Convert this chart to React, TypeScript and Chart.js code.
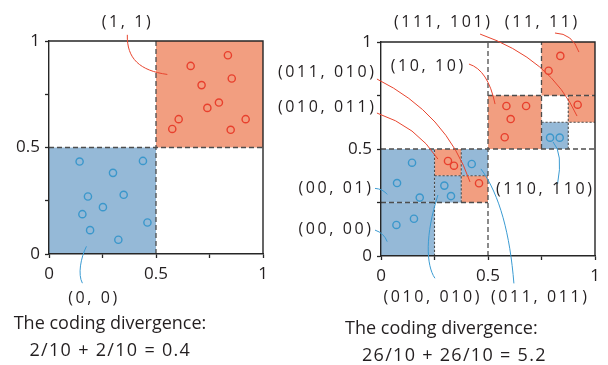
import { useEffect, useRef } from "react";
import { Chart, registerables } from "chart.js";

Chart.register(...registerables);

// ---------------------------------------------------------------------------
// Sample points (unit square), one array per coordinate and class
// ---------------------------------------------------------------------------
const leftRedX = [0.836, 0.662, 0.854, 0.713, 0.794, 0.74, 0.606, 0.919, 0.576, 0.849];
const leftRedY = [0.933, 0.883, 0.824, 0.793, 0.711, 0.686, 0.633, 0.633, 0.587, 0.583];
const leftBlueX = [0.143, 0.439, 0.299, 0.349, 0.182, 0.252, 0.156, 0.46, 0.192, 0.324];
const leftBlueY = [0.434, 0.437, 0.381, 0.278, 0.27, 0.22, 0.187, 0.148, 0.112, 0.067];

const rightRedX = [0.838, 0.783, 0.919, 0.586, 0.678, 0.606, 0.578, 0.313, 0.341, 0.458];
const rightRedY = [0.935, 0.866, 0.707, 0.701, 0.701, 0.64, 0.555, 0.444, 0.422, 0.34];
const rightBlueX = [0.145, 0.424, 0.075, 0.296, 0.181, 0.327, 0.154, 0.072, 0.79, 0.835];
const rightBlueY = [0.436, 0.43, 0.341, 0.329, 0.273, 0.28, 0.174, 0.145, 0.553, 0.553];

// Occupied cells as [x0, x1, y0, y1], with their code labels
type Cell = [number, number, number, number];
const leftRedCells: Cell[] = [[0.5, 1, 0.5, 1]];
const leftRedCodes = ["(1, 1)"];
const leftBlueCells: Cell[] = [[0, 0.5, 0, 0.5]];
const leftBlueCodes = ["(0, 0)"];

const rightRedCells: Cell[] = [
  [0.875, 1, 0.625, 0.75],
  [0.75, 1, 0.75, 1],
  [0.5, 0.75, 0.5, 0.75],
  [0.375, 0.5, 0.25, 0.375],
  [0.25, 0.375, 0.375, 0.5],
];
const rightRedCodes = ["(111, 101)", "(11, 11)", "(10, 10)", "(011, 010)", "(010, 011)"];
const rightBlueCells: Cell[] = [
  [0, 0.25, 0.25, 0.5],
  [0, 0.25, 0, 0.25],
  [0.75, 0.875, 0.5, 0.625],
  [0.25, 0.375, 0.25, 0.375],
  [0.375, 0.5, 0.375, 0.5],
];
const rightBlueCodes = ["(00, 01)", "(00, 00)", "(110, 110)", "(010, 010)", "(011, 011)"];

// Axis ticks
const tickValues = [0, 0.25, 0.5, 0.75, 1];
const tickLabels = ["0", "", "0.5", "", "1"];

// Captions
const leftCaption = ["The coding divergence:", "2/10 + 2/10 = 0.4"];
const rightCaption = ["The coding divergence:", "26/10 + 26/10 = 5.2"];

// ---------------------------------------------------------------------------
// Styling
// ---------------------------------------------------------------------------
const RED_FILL = "#f29e80";
const BLUE_FILL = "#95b9d7";
const RED_MARK = "#e8402d";
const BLUE_MARK = "#3b97cb";
const RED_LINK = "#e8452f";
const BLUE_LINK = "#3b9bd2";
const INK = "#231f20";
const AXIS = "#262626";
const SPLIT = "#4d4d4d";
const FONT_FAMILY = "'Open Sans', 'Noto Sans', sans-serif";
const LABEL_FONT = `16px ${FONT_FAMILY}`;
const CAPTION_FONT = `18px ${FONT_FAMILY}`;
const LABEL_SPACING = 2.6;
const FORMULA_SPACING = 1.3;

type Split = { x0: number; y0: number; x1: number; y1: number; fine?: boolean };
type Note = {
  text: string;
  at: [number, number];
  align: "left" | "center" | "right";
  font: string;
  spacing?: number;
};
type Link = { color: string; path: [number, number][] };

type PanelSpec = {
  redX: number[];
  redY: number[];
  blueX: number[];
  blueY: number[];
  redCells: Cell[];
  blueCells: Cell[];
  splits: Split[];
  notes: Note[];
  links: Link[];
  padding: { left: number; right: number; top: number; bottom: number };
};

// Partition boundaries: coarse levels dashed, fine levels dotted
const leftSplits: Split[] = [
  { x0: 0.5, y0: 0, x1: 0.5, y1: 1 },
  { x0: 0, y0: 0.5, x1: 1, y1: 0.5 },
];
const rightSplits: Split[] = [
  { x0: 0.5, y0: 0, x1: 0.5, y1: 1 },
  { x0: 0, y0: 0.5, x1: 1, y1: 0.5 },
  { x0: 0, y0: 0.25, x1: 0.5, y1: 0.25 },
  { x0: 0.75, y0: 0.5, x1: 0.75, y1: 1 },
  { x0: 0.5, y0: 0.75, x1: 1, y1: 0.75 },
  { x0: 0.25, y0: 0, x1: 0.25, y1: 0.5, fine: true },
  { x0: 0.375, y0: 0.25, x1: 0.375, y1: 0.5, fine: true },
  { x0: 0.25, y0: 0.375, x1: 0.5, y1: 0.375, fine: true },
  { x0: 0.875, y0: 0.5, x1: 0.875, y1: 0.75, fine: true },
  { x0: 0.75, y0: 0.625, x1: 1, y1: 0.625, fine: true },
];

const label = (text: string, at: [number, number], align: Note["align"]): Note => ({
  text,
  at,
  align,
  font: LABEL_FONT,
  spacing: LABEL_SPACING,
});
const caption = (text: string, at: [number, number], spacing = 0): Note => ({
  text,
  at,
  align: "left",
  font: CAPTION_FONT,
  spacing,
});

const leftSpec: PanelSpec = {
  redX: leftRedX,
  redY: leftRedY,
  blueX: leftBlueX,
  blueY: leftBlueY,
  redCells: leftRedCells,
  blueCells: leftBlueCells,
  splits: leftSplits,
  notes: [
    label(leftRedCodes[0], [0.361, 1.085], "center"),
    label(leftBlueCodes[0], [0.204, -0.209], "center"),
    caption(leftCaption[0], [-0.165, -0.33]),
    caption(leftCaption[1], [-0.091, -0.457], FORMULA_SPACING),
  ],
  links: [
    { color: RED_LINK, path: [[0.366, 1.029], [0.363, 0.917], [0.424, 0.861], [0.553, 0.843]] },
    { color: BLUE_LINK, path: [[0.175, 0.036], [0.148, -0.018], [0.134, -0.097], [0.156, -0.137]] },
  ],
  padding: { left: 9, top: 41, right: 345, bottom: 81 },
};

const rightSpec: PanelSpec = {
  redX: rightRedX,
  redY: rightRedY,
  blueX: rightBlueX,
  blueY: rightBlueY,
  redCells: rightRedCells,
  blueCells: rightBlueCells,
  splits: rightSplits,
  notes: [
    label(rightRedCodes[0], [0.285, 1.093], "center"),
    label(rightRedCodes[1], [0.748, 1.093], "center"),
    label(rightRedCodes[2], [0.215, 0.888], "center"),
    label(rightRedCodes[3], [-0.033, 0.86], "right"),
    label(rightRedCodes[4], [-0.033, 0.692], "right"),
    label(rightBlueCodes[0], [-0.047, 0.318], "right"),
    label(rightBlueCodes[1], [-0.047, 0.126], "right"),
    label(rightBlueCodes[2], [0.537, 0.313], "left"),
    label(rightBlueCodes[3], [0.236, -0.192], "center"),
    label(rightBlueCodes[4], [0.738, -0.192], "center"),
    caption(rightCaption[0], [-0.168, -0.341]),
    caption(rightCaption[1], [-0.089, -0.467], FORMULA_SPACING),
  ],
  links: [
    { color: RED_LINK, path: [[0.463, 1.037], [0.794, 0.921], [0.916, 0.654]] },
    { color: RED_LINK, path: [[0.813, 1.042], [0.895, 1.04], [0.925, 0.953]] },
    { color: RED_LINK, path: [[0.411, 0.897], [0.5, 0.869], [0.533, 0.71]] },
    { color: RED_LINK, path: [[-0.019, 0.827], [0.306, 0.666], [0.416, 0.346]] },
    { color: RED_LINK, path: [[-0.019, 0.668], [0.166, 0.607], [0.266, 0.453]] },
    { color: BLUE_LINK, path: [[-0.028, 0.316], [0.009, 0.313], [0.029, 0.288]] },
    { color: BLUE_LINK, path: [[-0.028, 0.121], [0.014, 0.107], [0.029, 0.067]] },
    { color: BLUE_LINK, path: [[0.804, 0.533], [0.852, 0.481], [0.825, 0.336]] },
    { color: BLUE_LINK, path: [[0.266, 0.285], [0.206, 0.098], [0.21, -0.042], [0.252, -0.104]] },
    { color: BLUE_LINK, path: [[0.467, 0.407], [0.556, 0.285], [0.603, 0.098], [0.621, -0.128]] },
  ],
  padding: { left: 341, top: 42, right: 13, bottom: 79 },
};

// ---------------------------------------------------------------------------
// Plugin: cell fills and partition lines under the axes; frame, leader lines
// and labels on top
// ---------------------------------------------------------------------------
function makeOverlay(spec: PanelSpec) {
  return {
    id: "partitionOverlay",
    beforeDraw(chart: any) {
      const { ctx, scales } = chart;
      const sx = scales.x;
      const sy = scales.y;
      ctx.save();
      const fillCells = (cells: Cell[], color: string) => {
        ctx.fillStyle = color;
        for (const [x0, x1, y0, y1] of cells) {
          const l = sx.getPixelForValue(x0);
          const r = sx.getPixelForValue(x1);
          const t = sy.getPixelForValue(y1);
          const b = sy.getPixelForValue(y0);
          ctx.fillRect(l, t, r - l, b - t);
        }
      };
      fillCells(spec.redCells, RED_FILL);
      fillCells(spec.blueCells, BLUE_FILL);

      ctx.strokeStyle = SPLIT;
      for (const s of spec.splits) {
        ctx.lineWidth = s.fine ? 1.1 : 1.3;
        ctx.setLineDash(s.fine ? [2.2, 1.8] : [5, 3]);
        ctx.beginPath();
        ctx.moveTo(sx.getPixelForValue(s.x0), sy.getPixelForValue(s.y0));
        ctx.lineTo(sx.getPixelForValue(s.x1), sy.getPixelForValue(s.y1));
        ctx.stroke();
      }
      ctx.restore();
    },
    afterDraw(chart: any) {
      const { ctx, scales, chartArea } = chart;
      const sx = scales.x;
      const sy = scales.y;
      ctx.save();

      // top and right edges of the frame
      ctx.strokeStyle = AXIS;
      ctx.lineWidth = 1.4;
      ctx.setLineDash([]);
      ctx.beginPath();
      ctx.moveTo(chartArea.left, chartArea.top);
      ctx.lineTo(chartArea.right, chartArea.top);
      ctx.lineTo(chartArea.right, chartArea.bottom);
      ctx.stroke();

      // leader lines
      ctx.lineWidth = 1;
      for (const link of spec.links) {
        const p = link.path.map(([vx, vy]) => [sx.getPixelForValue(vx), sy.getPixelForValue(vy)]);
        ctx.strokeStyle = link.color;
        ctx.beginPath();
        ctx.moveTo(p[0][0], p[0][1]);
        if (p.length === 3) ctx.quadraticCurveTo(p[1][0], p[1][1], p[2][0], p[2][1]);
        else ctx.bezierCurveTo(p[1][0], p[1][1], p[2][0], p[2][1], p[3][0], p[3][1]);
        ctx.stroke();
      }

      // labels and captions
      ctx.fillStyle = INK;
      ctx.textBaseline = "middle";
      ctx.textAlign = "left";
      for (const n of spec.notes) {
        const spacing = n.spacing ?? 0;
        ctx.font = n.font;
        (ctx as any).letterSpacing = `${spacing}px`;
        const w = ctx.measureText(n.text).width - spacing;
        const px = sx.getPixelForValue(n.at[0]);
        const py = sy.getPixelForValue(n.at[1]);
        const left = n.align === "center" ? px - w / 2 : n.align === "right" ? px - w : px;
        ctx.fillText(n.text, left, py);
        (ctx as any).letterSpacing = "0px";
      }
      ctx.restore();
    },
  };
}

function buildConfig(spec: PanelSpec): any {
  const toPoints = (xs: number[], ys: number[]) => xs.map((x, i) => ({ x, y: ys[i] }));
  const tickText = (v: number) => {
    const i = tickValues.indexOf(Number(v));
    return i >= 0 ? tickLabels[i] : "";
  };
  const axis = (fit: (s: any) => void, padding: number) => ({
    type: "linear",
    min: tickValues[0],
    max: tickValues[tickValues.length - 1],
    afterBuildTicks: (s: any) => {
      s.ticks = tickValues.map((value) => ({ value }));
    },
    afterFit: fit,
    ticks: {
      callback: tickText,
      autoSkip: false,
      maxRotation: 0,
      padding,
      color: INK,
      font: { family: FONT_FAMILY, size: 17 },
    },
    grid: {
      drawOnChartArea: false,
      drawTicks: true,
      tickLength: 4,
      tickColor: AXIS,
      tickWidth: 1.3,
    },
    border: { display: true, color: AXIS, width: 1.4 },
  });
  const marker = (color: string) => ({
    borderColor: color,
    backgroundColor: "rgba(0,0,0,0)",
    pointStyle: "circle",
    pointRadius: 3.6,
    pointHoverRadius: 3.6,
    pointBorderWidth: 1.4,
  });
  return {
    type: "scatter",
    data: {
      datasets: [
        { data: toPoints(spec.redX, spec.redY), ...marker(RED_MARK) },
        { data: toPoints(spec.blueX, spec.blueY), ...marker(BLUE_MARK) },
      ],
    },
    options: {
      animation: false,
      responsive: false,
      events: [],
      layout: { padding: spec.padding },
      plugins: { legend: { display: false }, tooltip: { enabled: false } },
      scales: {
        x: axis((s: any) => {
          s.height = 30;
        }, 6),
        y: axis((s: any) => {
          s.width = 40;
        }, 5),
      },
    },
    plugins: [makeOverlay(spec)],
  };
}

function Panel({ spec }: { spec: PanelSpec }) {
  const ref = useRef<HTMLCanvasElement | null>(null);
  useEffect(() => {
    if (!ref.current) return;
    const chart = new Chart(ref.current, buildConfig(spec));
    return () => chart.destroy();
  }, [spec]);
  return (
    <canvas
      ref={ref}
      width={608}
      height={365}
      style={{ position: "absolute", left: 0, top: 0, width: 608, height: 365 }}
    />
  );
}

export default function App() {
  return (
    <div
      style={{
        position: "absolute",
        left: 0,
        top: 0,
        width: 608,
        height: 365,
        background: "#ffffff",
        overflow: "hidden",
      }}
    >
      <Panel spec={leftSpec} />
      <Panel spec={rightSpec} />
    </div>
  );
}
